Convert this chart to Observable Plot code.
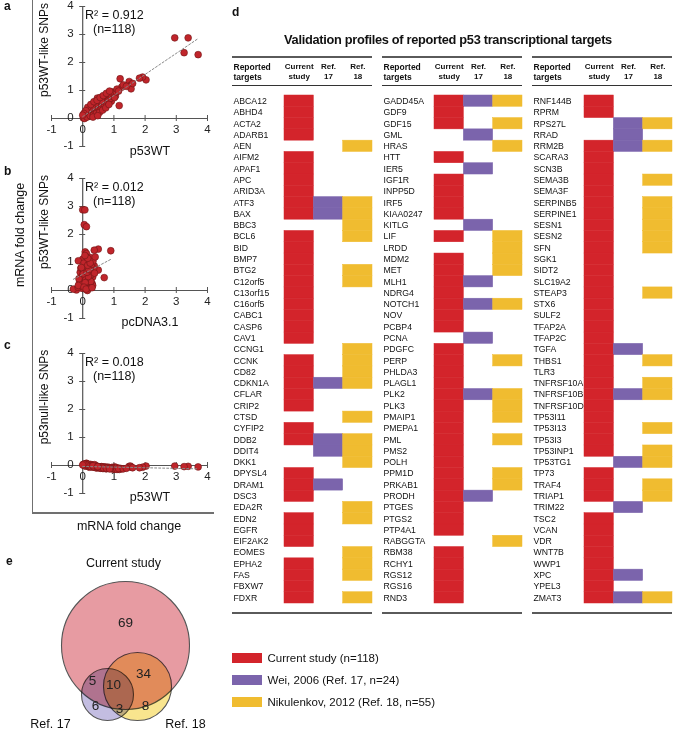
<!DOCTYPE html>
<html><head><meta charset="utf-8">
<script src="https://cdn.jsdelivr.net/npm/d3@7"></script>
<script src="https://cdn.jsdelivr.net/npm/@observablehq/plot@0.6"></script>
<style>
body{margin:0;background:#fff;font-family:"Liberation Sans",Arial,sans-serif;}
#root{position:relative;width:685px;height:730px;overflow:hidden;background:#fff;}
#root svg{position:absolute;overflow:visible;}
.rule{position:absolute;}
</style></head><body><div id="root"></div>
<script>
// ---------- scatter data (panels a–c), one entry per gene ----------
const p53WT = [2.95,3.38,3.25,3.70,2.03,1.92,1.82,1.20,1.49,1.53,1.25,1.55,1.12,1.03,0.88,0.47,1.17,0.95,1.05,0.92,
0.05,0.08,0.10,0.12,0.15,0.18,0.20,0.22,0.25,0.28,0.30,0.32,0.35,0.38,0.40,0.42,0.45,0.48,0.50,0.52,0.55,0.58,0.60,0.62,0.65,0.68,0.70,0.72,0.75,0.78,0.80,0.82,0.85,0.88,0.90,0.93,0.97,1.00,1.02,1.08,1.10,1.15,
0.02,0.06,0.14,0.24,0.34,0.44,0.54,0.64,0.74,0.84,0.60,0.40,0.30,0.20,0.16,0.26,0.36,0.46,0.56,0.66,0.76,0.86,0.10,0.04,0.00,0.33,0.48,1.30,1.40,1.60];
const wtLikeSNPs = [2.88,2.88,2.35,2.28,1.38,1.48,1.44,1.42,1.32,1.18,1.12,1.06,1.00,0.88,0.76,0.73,0.46,0.95,0.80,0.62,
0.10,0.15,0.05,0.20,0.12,0.25,0.08,0.18,0.30,0.15,0.22,0.35,0.20,0.28,0.40,0.25,0.32,0.45,0.30,0.38,0.50,0.42,0.35,0.55,0.48,0.60,0.45,0.65,0.55,0.70,0.62,0.78,0.68,0.85,0.72,0.80,0.88,0.92,0.75,0.95,1.05,0.98,
0.02,0.00,0.05,0.10,0.12,0.18,0.22,0.30,0.38,0.50,0.62,0.52,0.42,0.32,0.40,0.50,0.60,0.65,0.75,0.82,0.90,0.98,0.28,0.18,0.12,0.05,0.10,1.20,1.15,1.25];
const pcDNA31 = [0.00,0.07,0.05,0.12,0.08,0.50,0.37,0.90,0.12,0.23,0.00,-0.14,0.15,0.37,0.26,0.50,0.69,0.20,0.10,0.30,
-0.05,0.02,0.10,-0.08,0.05,0.15,-0.02,0.20,0.08,-0.12,0.12,0.25,0.00,0.18,-0.05,0.30,0.10,0.22,-0.10,0.05,0.28,0.14,-0.04,0.20,0.32,0.08,0.17,-0.08,0.26,0.12,0.02,0.35,0.19,0.06,0.24,-0.06,0.15,0.28,0.09,0.18,0.33,0.04,
-0.20,0.15,-0.30,0.25,-0.15,0.32,-0.06,0.12,0.22,-0.02,0.38,0.05,-0.12,0.26,0.10,0.18,0.02,0.14,0.20,-0.04,0.16,0.24,0.08,-0.14,0.04,0.11,0.30,0.40,0.16,0.07];
const nullLikeSNPs = [-0.02,-0.03,-0.04,-0.05,-0.02,-0.06,-0.08,-0.10,-0.03,-0.02,-0.12,-0.06,-0.09,-0.05,-0.10,-0.04,-0.14,-0.07,-0.13,-0.08,
0.02,0.05,-0.02,0.08,0.03,-0.04,0.01,-0.06,0.04,-0.03,0.02,-0.05,-0.02,0.03,-0.07,-0.04,-0.09,-0.03,-0.06,-0.08,-0.05,-0.10,-0.04,-0.07,-0.11,-0.06,-0.09,-0.05,-0.12,-0.08,-0.06,-0.10,-0.07,-0.11,-0.09,-0.08,-0.13,-0.10,-0.12,-0.09,-0.14,-0.11,
0.04,-0.01,0.06,0.00,-0.04,-0.02,-0.07,-0.05,-0.08,-0.09,-0.06,-0.05,-0.03,-0.02,0.01,-0.04,-0.06,-0.05,-0.08,-0.09,-0.10,-0.12,0.03,0.05,0.02,-0.01,-0.04,-0.12,-0.10,-0.08];
const axisTicks = [-1,0,1,2,3,4];
const r2Labels = ["R² = 0.912","R² = 0.012","R² = 0.018"];
const nLabel = "(n=118)";

// ---------- table data (panel d) ----------
const genesCol1 = ["ABCA12","ABHD4","ACTA2","ADARB1","AEN","AIFM2","APAF1","APC","ARID3A","ATF3","BAX","BBC3","BCL6","BID","BMP7","BTG2","C12orf5","C13orf15","C16orf5","CABC1","CASP6","CAV1","CCNG1","CCNK","CD82","CDKN1A","CFLAR","CRIP2","CTSD","CYFIP2","DDB2","DDIT4","DKK1","DPYSL4","DRAM1","DSC3","EDA2R","EDN2","EGFR","EIF2AK2","EOMES","EPHA2","FAS","FBXW7","FDXR"];
const genesCol2 = ["GADD45A","GDF9","GDF15","GML","HRAS","HTT","IER5","IGF1R","INPP5D","IRF5","KIAA0247","KITLG","LIF","LRDD","MDM2","MET","MLH1","NDRG4","NOTCH1","NOV","PCBP4","PCNA","PDGFC","PERP","PHLDA3","PLAGL1","PLK2","PLK3","PMAIP1","PMEPA1","PML","PMS2","POLH","PPM1D","PRKAB1","PRODH","PTGES","PTGS2","PTP4A1","RABGGTA","RBM38","RCHY1","RGS12","RGS16","RND3"];
const genesCol3 = ["RNF144B","RPRM","RPS27L","RRAD","RRM2B","SCARA3","SCN3B","SEMA3B","SEMA3F","SERPINB5","SERPINE1","SESN1","SESN2","SFN","SGK1","SIDT2","SLC19A2","STEAP3","STX6","SULF2","TFAP2A","TFAP2C","TGFA","THBS1","TLR3","TNFRSF10A","TNFRSF10B","TNFRSF10D","TP53I11","TP53I13","TP53I3","TP53INP1","TP53TG1","TP73","TRAF4","TRIAP1","TRIM22","TSC2","VCAN","VDR","WNT7B","WWP1","XPC","YPEL3","ZMAT3"];
const currentStudy = ["ABCA12","ABHD4","ACTA2","ADARB1","AIFM2","APAF1","APC","ARID3A","ATF3","BAX","BCL6","BID","BMP7","BTG2","C12orf5","C13orf15","C16orf5","CABC1","CASP6","CAV1","CCNK","CD82","CDKN1A","CFLAR","CRIP2","CYFIP2","DDB2","DPYSL4","DRAM1","DSC3","EDN2","EGFR","EIF2AK2","EPHA2","FAS","FBXW7","FDXR",
"GADD45A","GDF9","GDF15","HTT","IGF1R","INPP5D","IRF5","KIAA0247","LIF","MDM2","MET","MLH1","NDRG4","NOTCH1","NOV","PCBP4","PDGFC","PERP","PHLDA3","PLAGL1","PLK2","PLK3","PMAIP1","PMEPA1","PML","PMS2","POLH","PPM1D","PRKAB1","PRODH","PTGES","PTGS2","PTP4A1","RBM38","RCHY1","RGS12","RGS16","RND3",
"RNF144B","RPRM","RRM2B","SCARA3","SCN3B","SEMA3B","SEMA3F","SERPINB5","SERPINE1","SESN1","SESN2","SFN","SGK1","SIDT2","SLC19A2","STEAP3","STX6","SULF2","TFAP2A","TFAP2C","TGFA","THBS1","TLR3","TNFRSF10A","TNFRSF10B","TNFRSF10D","TP53I11","TP53I13","TP53I3","TP53INP1","TP73","TRAF4","TRIAP1","TSC2","VCAN","VDR","WNT7B","WWP1","XPC","YPEL3","ZMAT3"];
const ref17 = ["ATF3","BAX","CDKN1A","DDB2","DDIT4","DRAM1","GADD45A","GML","IER5","KITLG","MLH1","NOTCH1","PCNA","PLK2","PRODH","RPS27L","RRAD","RRM2B","TGFA","TNFRSF10B","TP53TG1","TRIM22","XPC","ZMAT3"];
const ref18 = ["AEN","ATF3","BAX","BBC3","BCL6","BTG2","C12orf5","CCNG1","CCNK","CD82","CDKN1A","CTSD","DDB2","DDIT4","DKK1","EDA2R","EDN2","EOMES","EPHA2","FAS","FDXR","GADD45A","GDF15","HRAS","LIF","LRDD","MDM2","MET","NOTCH1","PERP","PLK2","PLK3","PMAIP1","PML","PPM1D","PRKAB1","RABGGTA","RPS27L","RRM2B","SEMA3B","SERPINB5","SERPINE1","SESN1","SESN2","SFN","STEAP3","THBS1","TNFRSF10A","TNFRSF10B","TP53I13","TP53INP1","TP53TG1","TRAF4","TRIAP1","ZMAT3"];
const studies = ["Current study","Ref. 17","Ref. 18"];
const studyHeaders = ["Current\nstudy","Ref.\n17","Ref.\n18"];
const studyColors = ["#d3242b","#7b64ac","#f0bc30"];
const legendLabels = ["Current study (n=118)","Wei, 2006 (Ref. 17, n=24)","Nikulenkov, 2012 (Ref. 18, n=55)"];
const tableTitle = "Validation profiles of reported p53 transcriptional targets";

// ---------- Venn data (panel e) ----------
const vennSets = ["Current study","Ref. 18","Ref. 17"];
const vennRegionCounts = [69,34,5,10,6,3,8];

// ---------- helpers ----------
const root = document.getElementById("root");
const FONT = "Liberation Sans, Arial, sans-serif";
function put(node, left, top){ node.style.left = left+"px"; node.style.top = top+"px"; root.appendChild(node); return node; }
function label(text, x, y, o = {}){
  const d = document.createElement("div");
  d.textContent = text;
  const tx = o.anchor === "middle" ? "-50%" : o.anchor === "end" ? "-100%" : "0";
  d.style.cssText = `position:absolute;left:${x}px;top:${y}px;white-space:nowrap;line-height:1;color:#111;font-size:${o.size||12}px;font-weight:${o.bold?"bold":"normal"};letter-spacing:${o.ls||0}px;transform:translate(${o.rotate?"-50%":tx},-50%)${o.rotate?" rotate(-90deg)":""};`;
  root.appendChild(d);
}
function rule(x, y, w, h, color){
  const d = document.createElement("div");
  d.className = "rule";
  d.style.cssText += `left:${x}px;top:${y}px;width:${w}px;height:${h}px;background:${color};`;
  root.appendChild(d);
}

// ---------- panels a, b, c ----------
function scatter(xs, ys){
  const pts = xs.map((x, i) => ({x, y: ys[i]}));
  return Plot.plot({
    width: 220, height: 170, marginLeft: 51, marginRight: 13, marginTop: 10, marginBottom: 20,
    style: {background: "transparent", fontFamily: FONT, fontSize: "11.5px", color: "#222"},
    x: {domain: [-1, 4], axis: null},
    y: {domain: [-1, 4], axis: null},
    marks: [
      Plot.ruleY([0], {x1: -1, x2: 4, stroke: "#555", strokeWidth: 1.2}),
      Plot.ruleX([0], {y1: -1, y2: 4, stroke: "#555", strokeWidth: 1.2}),
      Plot.ruleX(axisTicks, {x: d => d, y1: 0, y2: 0, insetTop: -3, insetBottom: -3, stroke: "#555"}),
      Plot.ruleY(axisTicks, {y: d => d, x1: 0, x2: 0, insetLeft: -3, insetRight: -3, stroke: "#555"}),
      Plot.text(axisTicks, {x: d => d, y: 0, dy: 11, text: d => String(d), fill: "#222"}),
      Plot.text(axisTicks, {x: 0, y: d => d, dx: -9, dy: -1, textAnchor: "end", text: d => String(d), fill: "#222"}),
      Plot.dot(pts, {x: "x", y: "y", r: 3.4, fill: "#c0252b", stroke: "#6e1515", strokeWidth: 0.6}),
      Plot.linearRegressionY(pts, {x: "x", y: "y", stroke: "#888", strokeWidth: 1, strokeDasharray: "2,2", ci: 0})
    ]
  });
}
const panelTops = [-4, 168, 343];
const panelData = [[p53WT, wtLikeSNPs], [pcDNA31, wtLikeSNPs], [p53WT, nullLikeSNPs]];
const xTitles = ["p53WT", "pcDNA3.1", "p53WT"];
const yTitles = ["p53WT-like SNPs", "p53WT-like SNPs", "p53null-like SNPs"];
const xTitleOffset = [155, 154, 154];
panelData.forEach(([xs, ys], i) => {
  put(scatter(xs, ys), 0, panelTops[i]);
  const t = panelTops[i];
  label(r2Labels[i], 85, t + 19, {size: 12.5});
  label(nLabel, 93, t + 33, {size: 12.5});
  label(xTitles[i], 150, t + xTitleOffset[i], {size: 12.5, anchor: "middle"});
  label(yTitles[i], 44, t + 54, {size: 12, rotate: true});
});
["a","b","c"].forEach((p, i) => label(p, 4, [6, 171, 345][i], {size: 12, bold: true}));
rule(31.5, 0, 1.8, 513, "#707070");
rule(31.5, 512, 182, 1.8, "#707070");
label("mRNA fold change", 20, 235, {size: 12.5, rotate: true});
label("mRNA fold change", 129, 526, {size: 12.5, anchor: "middle"});

// ---------- panel d ----------
const membership = {"Current study": new Set(currentStudy), "Ref. 17": new Set(ref17), "Ref. 18": new Set(ref18)};
function tableBlock(genes){
  const cells = [];
  for (const g of genes) for (const s of studies) if (membership[s].has(g)) cells.push({gene: g, study: s});
  return Plot.plot({
    width: 141, height: 570, margin: 0,
    style: {background: "transparent", fontFamily: FONT, color: "#111"},
    x: {type: "band", domain: studies, range: [52, 140], padding: 0, round: false, axis: null},
    y: {type: "band", domain: genes, range: [45, 553], padding: 0, round: false, axis: null},
    color: {domain: studies, range: studyColors},
    marks: [
      Plot.cell(cells, {x: "study", y: "gene", fill: "study", stroke: "study", strokeWidth: 0.5, inset: 0}),
      Plot.text(genes, {y: d => d, frameAnchor: "left", textAnchor: "start", dx: 1, fontSize: 8.7, fill: "#111", text: d => d}),
      Plot.text(["Reported\ntargets"], {frameAnchor: "top-left", textAnchor: "start", lineAnchor: "top", dx: 1, dy: 12, fontSize: 8.5, fontWeight: "bold", lineHeight: 1.2, fill: "#111"}),
      Plot.text(studies, {x: d => d, frameAnchor: "top", lineAnchor: "top", dy: 12, fontSize: 8, fontWeight: "bold", lineHeight: 1.2, fill: "#111", text: (d, i) => studyHeaders[i]})
    ]
  });
}
const blockLefts = [232, 382, 532];
[genesCol1, genesCol2, genesCol3].forEach((g, i) => {
  put(tableBlock(g), blockLefts[i], 50);
  rule(blockLefts[i], 56, 140, 2, "#5a5a5a");
  rule(blockLefts[i], 84.5, 140, 1.3, "#333");
  rule(blockLefts[i], 612, 140, 2, "#5a5a5a");
});
label("d", 232, 12, {size: 12, bold: true});
label(tableTitle, 448, 40, {size: 12.8, bold: true, anchor: "middle", ls: -0.3});

// legend
const legendChart = Plot.plot({
  width: 250, height: 76, margin: 0,
  style: {background: "transparent", fontFamily: FONT, color: "#111"},
  x: {type: "band", domain: ["swatch"], range: [7, 37], padding: 0, round: false, axis: null},
  y: {type: "band", domain: legendLabels, range: [5, 71], padding: 0, round: false, axis: null},
  color: {domain: legendLabels, range: studyColors},
  marks: [
    Plot.cell(legendLabels, {x: () => "swatch", y: d => d, fill: d => d, insetTop: 6, insetBottom: 6}),
    Plot.text(legendLabels, {y: d => d, frameAnchor: "left", textAnchor: "start", dx: 42, fontSize: 11.5, fill: "#111", text: d => d})
  ]
});
put(legendChart, 225, 642);

// ---------- panel e (Venn) ----------
const vennLayout = [
  {cx: 125, cy: 645, r: 64, fill: "#e79ba2", op: 1},
  {cx: 137, cy: 686, r: 34, fill: "#f8e07a", op: 0.85},
  {cx: 107, cy: 694, r: 26, fill: "#b4acda", op: 0.8}
];
const vennCircles = vennSets.map((s, i) => ({set: s, ...vennLayout[i]}));
const regionPos = [[125,622],[143,673],[92,680],[113,684],[95,705],[119,708],[145,705]];
const vennCounts = vennRegionCounts.map((n, i) => ({n, x: regionPos[i][0], y: regionPos[i][1]}));
const vennTitles = [{t: "Current study", x: 123, y: 562}, {t: "Ref. 18", x: 185, y: 723}, {t: "Ref. 17", x: 50, y: 723}];
const vennChart = Plot.plot({
  width: 225, height: 190, margin: 0,
  style: {background: "transparent", fontFamily: FONT, color: "#111"},
  x: {domain: [0, 225], range: [0, 225], axis: null},
  y: {domain: [540, 730], range: [0, 190], axis: null},
  r: {type: "identity"},
  marks: [
    Plot.dot(vennCircles, {x: "cx", y: "cy", r: "r", fill: d => d.fill, fillOpacity: d => d.op, stroke: "#555", strokeWidth: 1.1, mixBlendMode: "multiply"}),
    Plot.text(vennCounts, {x: "x", y: "y", text: d => String(d.n), fontSize: 13.5, fill: "#222"}),
    Plot.text(vennTitles, {x: "x", y: "y", text: "t", fontSize: 12.5, fill: "#111"})
  ]
});
put(vennChart, 0, 540);
label("e", 6, 561, {size: 12, bold: true});
</script></body></html>
